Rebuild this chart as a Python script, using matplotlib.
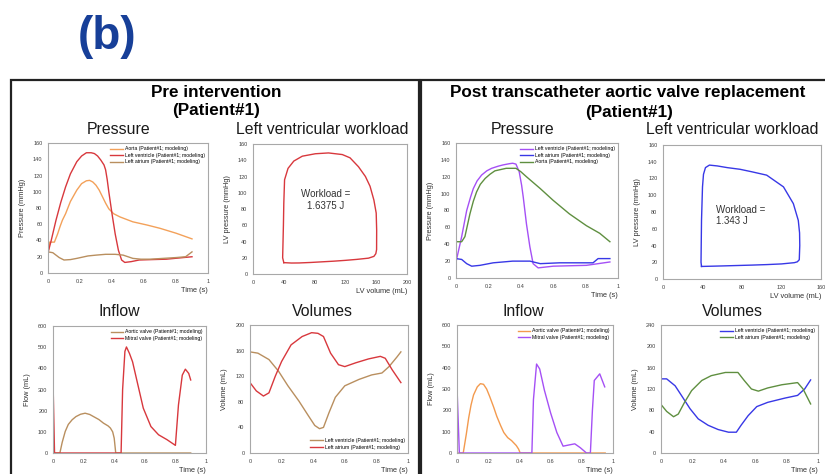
import matplotlib
matplotlib.use('Agg')
import matplotlib.pyplot as plt
import numpy as np
from matplotlib.patches import Rectangle

plt.rcParams['font.family'] = ['Liberation Sans', 'DejaVu Sans']

# ---- pre intervention ----
pre_ao_t = [0, 0.005, 0.01, 0.04, 0.06, 0.075, 0.09, 0.11, 0.14, 0.18, 0.21, 0.24, 0.26, 0.28, 0.30, 0.32, 0.34, 0.36, 0.38, 0.41, 0.45, 0.53, 0.62, 0.70, 0.80, 0.90]
pre_ao_p = [26, 30, 38, 38, 48, 57, 65, 73, 88, 102, 110, 113.5, 114, 112, 108, 102, 94, 86, 79, 73, 69, 63, 59, 55, 49, 42]
pre_lv_t = [0, 0.02, 0.05, 0.08, 0.11, 0.14, 0.18, 0.21, 0.24, 0.27, 0.29, 0.31, 0.33, 0.35, 0.36, 0.37, 0.38, 0.40, 0.42, 0.44, 0.46, 0.48, 0.52, 0.57, 0.65, 0.74, 0.82, 0.90]
pre_lv_p = [25, 40, 65, 87, 106, 122, 137, 144, 148, 148, 147, 144, 139, 133, 127, 115, 100, 73, 48, 28, 16, 13, 14, 16, 16.5, 17, 18.5, 20]
pre_la_t = [0, 0.03, 0.05, 0.07, 0.10, 0.14, 0.18, 0.25, 0.30, 0.36, 0.42, 0.47, 0.50, 0.53, 0.58, 0.64, 0.72, 0.80, 0.86, 0.88, 0.90]
pre_la_p = [26, 25, 22, 19, 16, 16.5, 18, 21, 22, 23, 23, 22, 20, 18, 17, 17, 18, 19, 20, 23, 26]

pre_loop_v = [40, 50, 60, 75, 90, 105, 120, 135, 150, 157, 159.5, 160.5, 160.6, 160, 157, 152, 146, 137, 126, 116, 98, 81, 64, 53, 45.5, 41, 40, 39.5, 39, 38.5, 40]
pre_loop_p = [14, 13.5, 13.6, 14.2, 15, 15.8, 16.8, 18, 19.5, 21.7, 25, 30, 54, 75, 91, 108, 120, 132, 143, 147, 149, 148, 145, 139, 130, 116, 87, 60, 40, 20, 14]

pre_av_t = [0, 0.045, 0.06, 0.08, 0.10, 0.125, 0.15, 0.18, 0.21, 0.24, 0.265, 0.30, 0.33, 0.36, 0.375, 0.39, 0.40, 0.41, 0.90]
pre_av_f = [0, 0, 50, 102, 135, 157, 172, 183, 188, 182, 172, 158, 141, 128, 118, 100, 70, 0, 0]
pre_mv_t = [0, 0.01, 0.445, 0.455, 0.47, 0.48, 0.50, 0.52, 0.55, 0.59, 0.64, 0.69, 0.745, 0.80, 0.82, 0.845, 0.865, 0.887, 0.90]
pre_mv_f = [345, 0, 0, 300, 480, 501, 470, 431, 337, 212, 125, 86, 63, 36, 227, 368, 396, 376, 345]

pre_vlv_t = [0, 0.05, 0.12, 0.18, 0.24, 0.31, 0.37, 0.41, 0.44, 0.465, 0.50, 0.54, 0.60, 0.69, 0.77, 0.835, 0.88, 0.93, 0.955]
pre_vlv_v = [158, 156, 146, 128, 105, 81, 58, 43, 38, 40, 63, 87, 105, 115, 122, 125, 135, 150, 158]
pre_vla_t = [0, 0.04, 0.085, 0.12, 0.16, 0.20, 0.26, 0.33, 0.39, 0.43, 0.465, 0.51, 0.56, 0.60, 0.67, 0.75, 0.825, 0.856, 0.90, 0.955]
pre_vla_v = [110, 97, 89, 94, 120, 143, 169, 182, 188, 187, 182, 156, 138, 135, 141, 147, 151, 148, 130, 110]

# ---- post TAVR ----
post_lv_t = [0, 0.035, 0.066, 0.09, 0.107, 0.13, 0.158, 0.19, 0.22, 0.26, 0.29, 0.33, 0.35, 0.37, 0.39, 0.405, 0.415, 0.435, 0.456, 0.476, 0.507, 0.60, 0.70, 0.805, 0.95]
post_lv_p = [19, 49, 80, 96, 106, 115, 122, 127, 130, 132.5, 134, 135.5, 136, 135, 126, 110, 96, 64, 37, 17, 12, 14, 14.5, 15, 19]
post_la_t = [0, 0.035, 0.066, 0.097, 0.148, 0.23, 0.35, 0.456, 0.52, 0.64, 0.76, 0.846, 0.877, 0.95]
post_la_p = [23, 22, 17, 14, 15, 18, 20, 20, 17, 18, 18, 18, 23, 23]
post_ao_t = [0, 0.035, 0.055, 0.086, 0.107, 0.127, 0.15, 0.18, 0.21, 0.24, 0.31, 0.37, 0.40, 0.435, 0.52, 0.60, 0.70, 0.805, 0.887, 0.95]
post_ao_p = [43, 43, 49, 76, 91, 102, 111, 118, 123, 127, 130, 130, 126, 120, 106, 92, 76, 62, 53, 43]

post_loop_v = [39, 50, 60, 75, 90, 105, 120, 133, 136, 138, 138.5, 138.3, 137, 132, 122, 105, 90, 78, 65, 55, 47, 43, 41, 40, 39, 38.5, 39]
post_loop_p = [15, 15.3, 15.6, 16.1, 16.6, 17.2, 18, 19.5, 20.5, 23, 40, 55, 70, 90, 110, 124, 128, 131, 133, 135, 136, 133, 125, 110, 70, 20, 15]

post_av_t = [0, 0.04, 0.06, 0.075, 0.09, 0.106, 0.13, 0.15, 0.17, 0.19, 0.21, 0.235, 0.255, 0.28, 0.30, 0.325, 0.35, 0.38, 0.395, 0.405, 0.95]
post_av_f = [0, 0, 90, 165, 225, 272, 310, 325, 322, 300, 264, 215, 172, 128, 96, 72, 58, 35, 18, 0, 0]
post_mv_t = [0, 0.015, 0.48, 0.49, 0.51, 0.53, 0.56, 0.60, 0.64, 0.68, 0.72, 0.755, 0.79, 0.83, 0.855, 0.868, 0.88, 0.915, 0.947]
post_mv_f = [310, 0, 0, 250, 417, 394, 295, 188, 96, 32, 38, 43, 25, 0, 0, 200, 340, 371, 310]

post_vlv_t = [0, 0.036, 0.09, 0.13, 0.185, 0.237, 0.30, 0.364, 0.43, 0.48, 0.51, 0.555, 0.61, 0.68, 0.79, 0.87, 0.915, 0.953]
post_vlv_v = [139, 139, 126, 108, 83, 64, 52, 44, 39, 39, 52, 70, 87, 95, 103, 108, 120, 137]
post_vla_t = [0, 0.036, 0.08, 0.11, 0.15, 0.195, 0.26, 0.32, 0.41, 0.49, 0.53, 0.576, 0.62, 0.68, 0.77, 0.87, 0.905, 0.953]
post_vla_v = [91, 78, 68, 73, 95, 117, 136, 145, 151, 151, 136, 120, 116, 122, 128, 132, 120, 92]

pre_red = '#d8383d'
pre_orange = '#f3a15a'
pre_brown = '#b98f5f'
post_purple = '#a550f5'
post_blue = '#3838e6'
post_green = '#5f8f40'
post_orange = '#f39a4e'

W, H = 825, 474


def px_box(l, t, r, b):
	return [l / W, 1 - b / H, (r - l) / W, (b - t) / H]


def setup(ax, xmax, xstep, ymax, ystep, xlabel, ylabel):
	ax.set_xlim(0, xmax)
	ax.set_ylim(0, ymax)
	xt = np.arange(0, xmax + xstep / 2, xstep)
	yt = np.arange(0, ymax + ystep / 2, ystep)
	ax.set_xticks(xt, [f'{v:g}' for v in np.round(xt, 2)])
	ax.set_yticks(yt, [f'{v:g}' for v in yt])
	for sp in ax.spines.values():
		sp.set_color('#a8a8a8')
		sp.set_linewidth(0.8)
	ax.tick_params(length=0, labelsize=4, colors='#404040', pad=4)
	ax.set_xlabel(xlabel, fontsize=5.3, loc='right', labelpad=2.5, color='#303030')
	ax.set_ylabel(ylabel, fontsize=5.3, labelpad=5, color='#303030')


def legend(ax, loc='upper right'):
	ax.legend(fontsize=3.7, frameon=False, loc=loc, handlelength=2.4,
		handletextpad=0.4, borderaxespad=0.25, labelspacing=0.3)


fig = plt.figure(figsize=(W / 100, H / 100), dpi=100)

# panel frames
fig.patches.append(Rectangle((11 / W, -0.05), (419 - 11) / W, 1.05 - 80 / H + 0.0,
	transform=fig.transFigure, fill=False, edgecolor='#222222', linewidth=1.6))
fig.patches.append(Rectangle((421 / W, -0.05), 0.6, 1.05 - 80 / H,
	transform=fig.transFigure, fill=False, edgecolor='#222222', linewidth=1.6))

fig.text(107 / W, 1 - 37 / H, '(b)', fontsize=33, fontweight='bold', color='#173f98',
	ha='center', va='center')

fig.text(216 / W, 1 - 93 / H, 'Pre intervention', fontsize=12.3, fontweight='bold', ha='center', va='center')
fig.text(216 / W, 1 - 111 / H, '(Patient#1)', fontsize=12.3, fontweight='bold', ha='center', va='center')
fig.text(628 / W, 1 - 93 / H, 'Post transcatheter aortic valve replacement', fontsize=12.3, fontweight='bold', ha='center', va='center')
fig.text(629 / W, 1 - 112 / H, '(Patient#1)', fontsize=12.3, fontweight='bold', ha='center', va='center')

for x, y, s in [(119, 130, 'Pressure'), (322, 130, 'Left ventricular workload'),
		(119, 312, 'Inflow'), (322, 312, 'Volumes'),
		(523, 130, 'Pressure'), (732, 130, 'Left ventricular workload'),
		(523, 312, 'Inflow'), (732, 312, 'Volumes')]:
	fig.text(x / W, 1 - y / H, s, fontsize=11.4, ha='center', va='center', color='#1a1a1a')

lw = 1.0

# pre: pressure
ax = fig.add_axes(px_box(48, 143, 208, 273))
ax.plot(pre_ao_t, pre_ao_p, color=pre_orange, lw=lw, label='Aorta (Patient#1; modeling)')
ax.plot(pre_lv_t, pre_lv_p, color=pre_red, lw=lw, label='Left ventricle (Patient#1; modeling)')
ax.plot(pre_la_t, pre_la_p, color=pre_brown, lw=lw, label='Left atrium (Patient#1; modeling)')
setup(ax, 1, 0.2, 160, 20, 'Time (s)', 'Pressure (mmHg)')
legend(ax)

# pre: PV loop
ax = fig.add_axes(px_box(253, 144, 407, 274))
ax.plot(pre_loop_v, pre_loop_p, color=pre_red, lw=lw)
ax.text(94, 91, 'Workload =\n1.6375 J', fontsize=7, ha='center', va='center', color='#333333', multialignment='center')
setup(ax, 200, 40, 160, 20, 'LV volume (mL)', 'LV pressure (mmHg)')

# pre: inflow
ax = fig.add_axes(px_box(53, 326, 206, 453))
ax.plot(pre_av_t, pre_av_f, color=pre_brown, lw=lw, label='Aortic valve (Patient#1; modeling)')
ax.plot(pre_mv_t, pre_mv_f, color=pre_red, lw=lw, label='Mitral valve (Patient#1; modeling)')
setup(ax, 1, 0.2, 600, 100, 'Time (s)', 'Flow (mL)')
legend(ax)

# pre: volumes
ax = fig.add_axes(px_box(250, 325, 408, 453))
ax.plot(pre_vlv_t, pre_vlv_v, color=pre_brown, lw=lw, label='Left ventricle (Patient#1; modeling)')
ax.plot(pre_vla_t, pre_vla_v, color=pre_red, lw=lw, label='Left atrium (Patient#1; modeling)')
setup(ax, 1, 0.2, 200, 40, 'Time (s)', 'Volume (mL)')
legend(ax, 'lower right')

# post: pressure
ax = fig.add_axes(px_box(456, 143, 618, 278))
ax.plot(post_lv_t, post_lv_p, color=post_purple, lw=lw, label='Left ventricle (Patient#1; modeling)')
ax.plot(post_la_t, post_la_p, color=post_blue, lw=lw, label='Left atrium (Patient#1; modeling)')
ax.plot(post_ao_t, post_ao_p, color=post_green, lw=lw, label='Aorta (Patient#1, modeling)')
setup(ax, 1, 0.2, 160, 20, 'Time (s)', 'Pressure (mmHg)')
legend(ax)

# post: PV loop
ax = fig.add_axes(px_box(663, 145, 821, 279))
ax.plot(post_loop_v, post_loop_p, color=post_blue, lw=lw)
ax.text(54, 76, 'Workload =\n1.343 J', fontsize=7, ha='left', va='center', color='#333333')
setup(ax, 160, 40, 160, 20, 'LV volume (mL)', 'LV pressure (mmHg)')

# post: inflow
ax = fig.add_axes(px_box(457, 325, 613, 453))
ax.plot(post_av_t, post_av_f, color=post_orange, lw=lw, label='Aortic valve (Patient#1; modeling)')
ax.plot(post_mv_t, post_mv_f, color=post_purple, lw=lw, label='Mitral valve (Patient#1; modeling)')
setup(ax, 1, 0.2, 600, 100, 'Time (s)', 'Flow (mL)')
legend(ax)

# post: volumes
ax = fig.add_axes(px_box(661, 325, 818, 453))
ax.plot(post_vlv_t, post_vlv_v, color=post_blue, lw=lw, label='Left ventricle (Patient#1; modeling)')
ax.plot(post_vla_t, post_vla_v, color=post_green, lw=lw, label='Left atrium (Patient#1; modeling)')
setup(ax, 1, 0.2, 240, 40, 'Time (s)', 'Volume (mL)')
legend(ax)

fig.savefig('out.png', dpi=100)
